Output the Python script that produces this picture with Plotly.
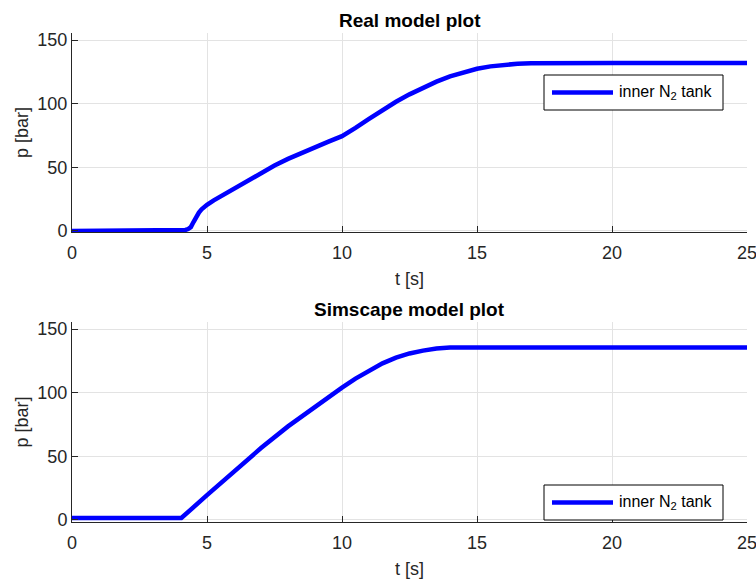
import plotly.graph_objects as go

# ---- data ----
t_real = [0, 4.1, 4.2, 4.3, 4.4, 4.5, 4.6, 4.7, 4.8, 4.9, 5.0, 5.25, 5.5, 5.75, 6.0, 6.5, 7.0,
          7.5, 8.0, 8.5, 9.0, 9.5, 10.0, 10.25, 10.5, 11.0, 11.5, 12.0, 12.5, 13.0, 13.5,
          14.0, 14.5, 15.0, 15.5, 16.0, 16.5, 17.0, 18.0, 20.0, 25.0]
p_real = [0, 0, 0.8, 1.5, 3, 7, 11, 14.5, 17, 19, 20.5, 24, 27, 30.2, 33.4, 39.8, 45.8,
          51.4, 56.6, 61.4, 65.8, 70.2, 74.5, 77.5, 81, 88, 95, 101.5, 107.3, 112.5, 117.3,
          121.5, 124.8, 127.4, 129.3, 130.6, 131.4, 131.8, 132, 132, 132]

t_sim = [0, 4.05, 5, 6, 7, 8, 9, 10, 10.5, 11, 11.5, 12, 12.5, 13, 13.5, 14, 14.5, 15, 20, 25]
p_sim = [1.5, 1.5, 19.5, 38, 56.5, 73.5, 89, 104, 111, 117.5, 123, 127.5, 130.8, 133,
         134.7, 135.4, 135.5, 135.5, 135.5, 135.5]

x_ticks = [0, 5, 10, 15, 20, 25]
y_ticks = [0, 50, 100, 150]
titles = ["Real model plot", "Simscape model plot"]
legend_name = "inner N<sub>2</sub> tank"

FONT = "Liberation Sans, Arial, Helvetica, sans-serif"
AX = "#262626"
GRID = "#e3e3e3"
BLUE = "#0000ff"

W, H = 756, 580
# pixel edges of the plot areas
SX0, SX1 = 72, 747
TOP_Y0, TOP_Y1 = 33, 232
BOT_Y0, BOT_Y1 = 322, 522

ml = SX0
mr = W - SX1
mt = TOP_Y0
mb = H - BOT_Y1
ph = H - mt - mb
pw = W - ml - mr


def py(sy):
    return (BOT_Y1 - sy) / ph


def px(sx):
    return (sx - SX0) / pw


fig = go.Figure()
fig.add_trace(go.Scatter(x=t_real, y=p_real, mode="lines", name=legend_name,
                         line=dict(color=BLUE, width=4.5),
                         xaxis="x", yaxis="y", showlegend=False))
fig.add_trace(go.Scatter(x=t_sim, y=p_sim, mode="lines", name=legend_name,
                         line=dict(color=BLUE, width=4.5),
                         xaxis="x2", yaxis="y2", showlegend=False))

common_x = dict(range=[0, 25], tickvals=x_ticks, showline=True, linecolor=AX, linewidth=1,
                ticks="inside", ticklen=6, tickcolor=AX, showgrid=True, gridcolor=GRID,
                zeroline=False, automargin=False, ticklabeloverflow="allow",
                ticklabelstandoff=4,
                tickfont=dict(size=18, color=AX, family=FONT),
                title=dict(text="t [s]", font=dict(size=18, color=AX, family=FONT), standoff=10))
common_y = dict(tickvals=y_ticks, showline=True, linecolor=AX, linewidth=1,
                ticks="inside", ticklen=6, tickcolor=AX, showgrid=True, gridcolor=GRID,
                zeroline=False, automargin=False, ticklabeloverflow="allow",
                tickfont=dict(size=18, color=AX, family=FONT),
                title=dict(text="p [bar]", font=dict(size=18, color=AX, family=FONT), standoff=4))

fig.update_layout(
    width=W, height=H,
    margin=dict(l=ml, r=mr, t=mt, b=mb, autoexpand=False),
    paper_bgcolor="white", plot_bgcolor="white",
    font=dict(family=FONT, color=AX),
    showlegend=False,
    xaxis=dict(domain=[0, 1], anchor="y", **common_x),
    yaxis=dict(domain=[py(TOP_Y1), 1], anchor="x", range=[-0.8, 155.5], **common_y),
    xaxis2=dict(domain=[0, 1], anchor="y2", **common_x),
    yaxis2=dict(domain=[0, py(BOT_Y0)], anchor="x2", range=[-1.6, 155.5], **common_y),
)

for txt, sy in zip(titles, [20, 309]):
    fig.add_annotation(text="<b>%s</b>" % txt, xref="paper", yref="paper",
                       x=0.5, y=py(sy), xanchor="center", yanchor="middle",
                       showarrow=False, font=dict(size=19, color="black", family=FONT))

# legend boxes (one per subplot), drawn like the MATLAB legends
for top in [75, 485]:
    fig.add_shape(type="rect", xref="paper", yref="paper",
                  x0=px(544), x1=px(723), y0=py(top + 35), y1=py(top),
                  line=dict(color="black", width=1), fillcolor="white", layer="above")
    fig.add_shape(type="line", xref="paper", yref="paper",
                  x0=px(552), x1=px(613), y0=py(top + 17.5), y1=py(top + 17.5),
                  line=dict(color=BLUE, width=4.5), layer="above")
    fig.add_annotation(text=legend_name, xref="paper", yref="paper",
                       x=px(617), y=py(top + 17.5), xanchor="left", yanchor="middle",
                       showarrow=False, font=dict(size=16, color="black", family=FONT))

fig.write_html(
    "out.html",
    config={"displayModeBar": False},
    post_script="document.documentElement.style.margin='0';"
                "document.body.style.margin='0';"
                "document.body.style.overflow='hidden';",
)
